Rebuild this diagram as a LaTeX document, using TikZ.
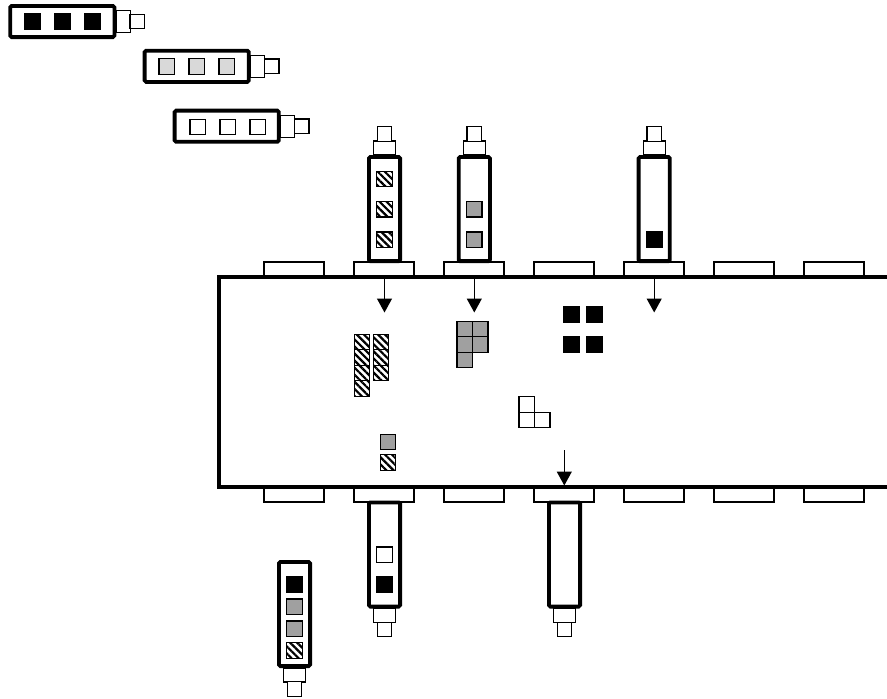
\documentclass[tikz,border=0pt]{standalone}
\usetikzlibrary{arrows.meta,patterns.meta}
\definecolor{midgray}{RGB}{160,160,160}
\definecolor{paleg}{RGB}{217,217,217}
\tikzset{
  thinbox/.style={draw, line width=1.3pt, fill=white, inner sep=0pt, outer sep=0pt},
  vbody/.style={draw, line width=3.8pt, fill=white, rounded corners=1.5pt, inner sep=0pt, outer sep=0pt, minimum width=31.2pt, minimum height=104.2pt},
  hbody/.style={vbody, minimum width=104.2pt, minimum height=31.2pt},
  slotbox/.style={thinbox, minimum width=60pt, minimum height=15pt},
  sq/.style={draw, line width=1.3pt, inner sep=0pt, outer sep=0pt, minimum size=15.5pt},
  sqblack/.style={sq, fill=black},
  sqgray/.style={sq, fill=midgray},
  sqpale/.style={sq, fill=paleg},
  sqwhite/.style={sq, fill=white},
  sqhatch/.style={sq, preaction={fill=white}, pattern={Lines[angle=-45,distance=5pt,line width=2.2pt]}, pattern color=black},
  boxline/.style={line width=4pt, line join=miter},
  arr/.style={-{Triangle[width=15pt,length=14pt]}, line width=1.3pt}
}
\newcommand{\vcart}[4]{%
  \node[thinbox, minimum width=22pt, minimum height=14pt] (#1-c1) at ({#2},{#3+#4*61}) {};
  \node[thinbox, minimum width=14.5pt, minimum height=14.5pt] (#1-c2) at ({#2},{#3+#4*75}) {};
  \node[vbody] (#1) at (#2,#3) {};
}
\newcommand{\hcart}[3]{%
  \node[thinbox, minimum width=14pt, minimum height=22pt] (#1-c1) at ({#2+61},#3) {};
  \node[thinbox, minimum width=14.5pt, minimum height=14.5pt] (#1-c2) at ({#2+75},#3) {};
  \node[hbody] (#1) at (#2,#3) {};
}
\begin{document}
\begin{tikzpicture}[x=1pt,y=-1pt]
\useasboundingbox (0,0) rectangle (887,699);
% slots
\foreach \i in {0,...,6}{
  \node[slotbox] (top\i) at ({294+90*\i},269.5) {};
  \node[slotbox] (bot\i) at ({294+90*\i},494.5) {};
}
% main box
\coordinate (boxTR) at (892,277);
\coordinate (boxTL) at (219,277);
\coordinate (boxBL) at (219,487);
\coordinate (boxBR) at (892,487);
\draw[boxline] (boxTR) -- (boxTL) -- (boxBL) -- (boxBR);
% horizontal cartridges
\hcart{ca}{62.3}{21.5}
\hcart{cb}{196.7}{66.3}
\hcart{cc}{226.7}{126.2}
\node[sqblack] (ca1) at (32.3,21.5) {};
\node[sqblack] (ca2) at (62.3,21.5) {};
\node[sqblack] (ca3) at (92.3,21.5) {};
\node[sqpale] (cb1) at (166.7,66.5) {};
\node[sqpale] (cb2) at (196.7,66.5) {};
\node[sqpale] (cb3) at (226.7,66.5) {};
\node[sqwhite] (cc1) at (197.7,127) {};
\node[sqwhite] (cc2) at (227.7,127) {};
\node[sqwhite] (cc3) at (257.7,127) {};
% top vertical cartridges
\vcart{t1}{384.5}{209}{-1}
\vcart{t2}{474.3}{209}{-1}
\vcart{t3}{654.2}{209}{-1}
\node[sqhatch] (t1a) at (384.5,179) {};
\node[sqhatch] (t1b) at (384.5,209.3) {};
\node[sqhatch] (t1c) at (384.5,239.7) {};
\node[sqgray] (t2a) at (474.3,209.3) {};
\node[sqgray] (t2b) at (474.3,239.7) {};
\node[sqblack] (t3a) at (654.2,239.5) {};
% bottom vertical cartridges
\vcart{d1}{384.5}{554.5}{1}
\vcart{d2}{564.5}{554.5}{1}
\vcart{d3}{294.5}{614}{1}
\node[sqwhite] (d1a) at (384.5,554.7) {};
\node[sqblack] (d1b) at (384.5,584.7) {};
\node[sqblack] (d3a) at (294.5,584.7) {};
\node[sqgray] (d3b) at (294.5,606.7) {};
\node[sqgray] (d3c) at (294.5,628.8) {};
\node[sqhatch] (d3d) at (294.5,650.5) {};
% arrows
\coordinate (a1s) at (384.5,277); \coordinate (a1e) at (384.5,312.5);
\coordinate (a2s) at (474.3,277); \coordinate (a2e) at (474.3,312.5);
\coordinate (a3s) at (654.2,277); \coordinate (a3e) at (654.2,312.5);
\coordinate (a4s) at (564.3,450); \coordinate (a4e) at (564.3,485.5);
\draw[arr] (a1s) -- (a1e);
\draw[arr] (a2s) -- (a2e);
\draw[arr] (a3s) -- (a3e);
\draw[arr] (a4s) -- (a4e);
% hatched stack
\foreach \r [count=\k] in {342,357.5,373,388.5}{
  \node[sqhatch] (hl\k) at (362,\r) {};
}
\foreach \r [count=\k] in {342,357.5,373}{
  \node[sqhatch] (hr\k) at (381,\r) {};
}
% gray shape
\foreach \r [count=\k] in {329,344.5,360}{
  \node[sqgray] (gl\k) at (464.7,\r) {};
}
\foreach \r [count=\k] in {329,344.5}{
  \node[sqgray] (gr\k) at (480.2,\r) {};
}
% small pair
\node[sqgray] (pg) at (388,442) {};
\node[sqhatch] (ph) at (388,462.5) {};
% black 2x2
\node[sqblack] (k1) at (571.7,314.3) {};
\node[sqblack] (k2) at (594.3,314.3) {};
\node[sqblack] (k3) at (571.7,344.3) {};
\node[sqblack] (k4) at (594.3,344.3) {};
% white L
\node[sqwhite] (w1) at (526.8,404.4) {};
\node[sqwhite] (w2) at (526.8,419.9) {};
\node[sqwhite] (w3) at (542.3,419.9) {};
\end{tikzpicture}
\end{document}
